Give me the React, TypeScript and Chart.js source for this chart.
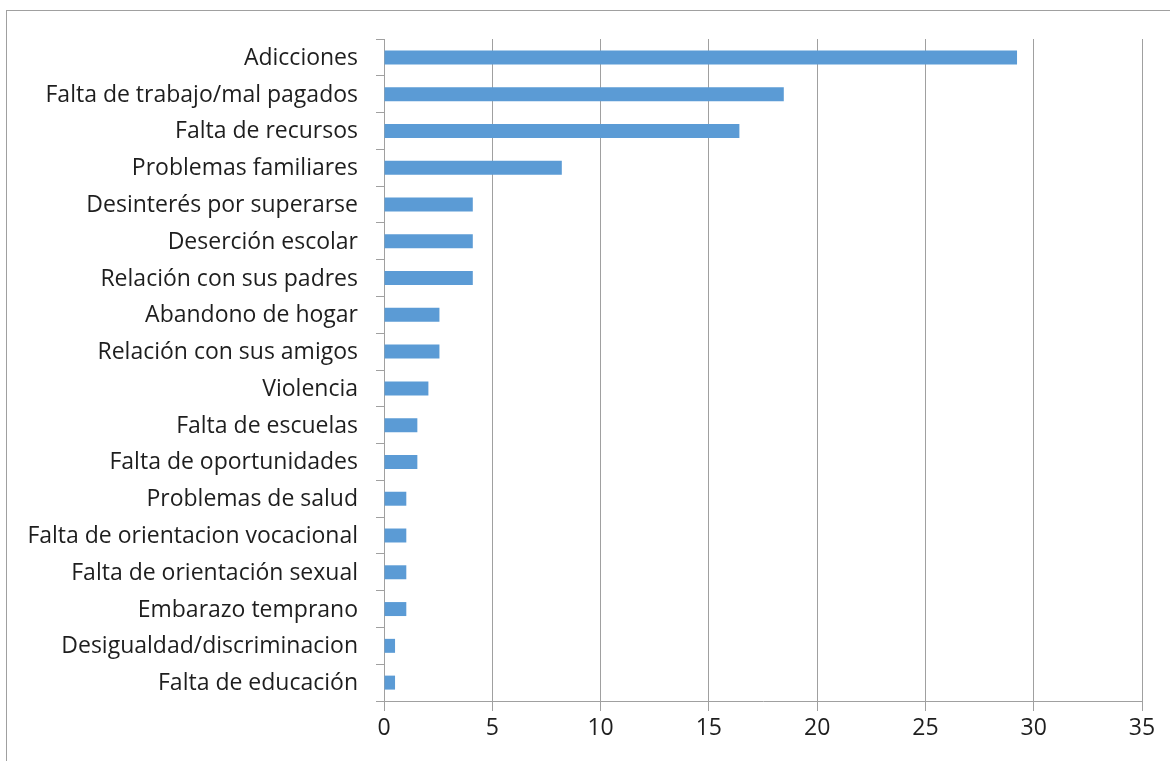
import React, { useEffect, useRef } from "react";
import { Chart, registerables } from "chart.js";

Chart.register(...registerables);

const categories = [
  "Adicciones",
  "Falta de trabajo/mal pagados",
  "Falta de recursos",
  "Problemas familiares",
  "Desinterés por superarse",
  "Deserción escolar",
  "Relación con sus padres",
  "Abandono de hogar",
  "Relación con sus amigos",
  "Violencia",
  "Falta de escuelas",
  "Falta de oportunidades",
  "Problemas de salud",
  "Falta de orientacion vocacional",
  "Falta de orientación sexual",
  "Embarazo temprano",
  "Desigualdad/discriminacion",
  "Falta de educación",
];

const values = [
  29.23, 18.46, 16.41, 8.21, 4.1, 4.1, 4.1, 2.56, 2.56, 2.05, 1.54, 1.54, 1.03,
  1.03, 1.03, 1.03, 0.51, 0.51,
];

const xTicks = [0, 5, 10, 15, 20, 25, 30, 35];

const FONT = "'Open Sans', 'Noto Sans', sans-serif";

export default function App() {
  const ref = useRef<HTMLCanvasElement | null>(null);

  useEffect(() => {
    document.body.style.margin = "0";
    if (!ref.current) return;
    const chart = new Chart(ref.current, {
      type: "bar",
      data: {
        labels: categories,
        datasets: [
          {
            data: values,
            backgroundColor: "#5b9bd5",
            barPercentage: 0.38,
            categoryPercentage: 1,
          },
        ],
      },
      options: {
        indexAxis: "y",
        animation: false,
        responsive: false,
        maintainAspectRatio: false,
        layout: { padding: { top: 39, right: 28, bottom: 0, left: 0 } },
        plugins: {
          legend: { display: false },
          tooltip: { enabled: false },
        },
        scales: {
          x: {
            min: 0,
            max: 35,
            afterBuildTicks: (axis: any) => {
              axis.ticks = xTicks.map((v) => ({ value: v }));
            },
            afterFit: (axis: any) => {
              axis.height = 60;
            },
            grid: {
              color: "#a0a0a0",
              lineWidth: 1,
              tickLength: 10,
              drawOnChartArea: true,
            },
            border: { color: "#a0a0a0", width: 1 },
            ticks: {
              color: "#1e1e1e",
              font: { family: FONT, size: 23 },
              padding: 4,
            },
            z: 1,
          },
          y: {
            afterFit: (axis: any) => {
              axis.width = 384;
            },
            grid: {
              offset: true,
              drawOnChartArea: false,
              color: "#a0a0a0",
              tickLength: 8,
            },
            border: { color: "#a0a0a0", width: 1 },
            ticks: {
              color: "#1e1e1e",
              font: { family: FONT, size: 23 },
              padding: 18,
              labelOffset: 1,
              autoSkip: false,
            },
          },
        },
      },
    });
    return () => chart.destroy();
  }, []);

  return (
    <div style={{ position: "relative", width: 1170, height: 761, overflow: "hidden", background: "#fff" }}>
      <div
        style={{
          position: "absolute",
          left: 6,
          top: 10,
          width: 1300,
          height: 900,
          border: "1px solid #a0a0a0",
          boxSizing: "border-box",
        }}
      />
      <canvas
        ref={ref}
        width={1170}
        height={761}
        style={{ position: "absolute", left: 0, top: 0, width: 1170, height: 761 }}
      />
    </div>
  );
}
